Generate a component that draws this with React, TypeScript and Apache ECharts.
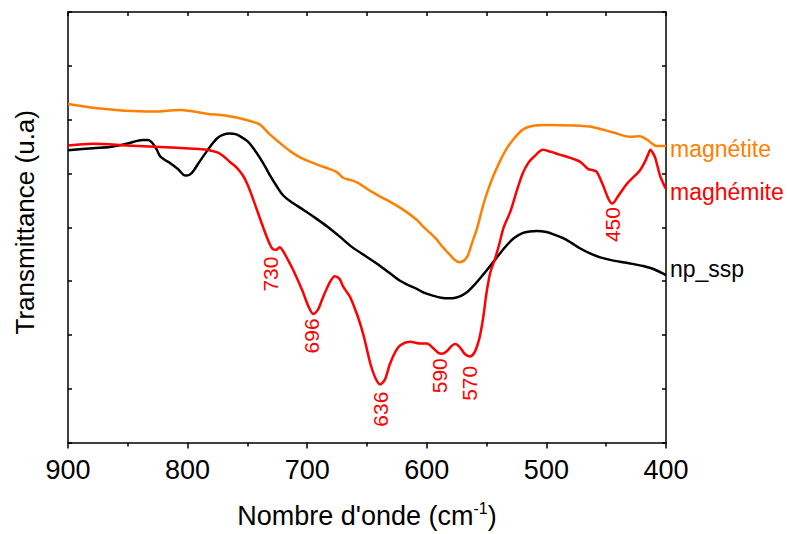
import React, { useEffect, useRef } from "react";
import * as echarts from "echarts";

const FONT = "'Liberation Sans', Arial, Helvetica, sans-serif";

const xMin = 400;
const xMax = 900;
const xStep = 100;

const seriesNames = ["magnétite", "maghémite", "np_ssp"];
const seriesColors = ["#FF8000", "#FF0000", "#000000"];

const magnetite: [number, number][] = [
  [900, 6.29], [879, 6.22], [860, 6.18], [846, 6.16], [826, 6.15], [815, 6.17], [806, 6.18],
  [795, 6.15], [784, 6.11], [767, 6.07], [750, 5.99], [744, 5.95], [739, 5.9], [731, 5.72],
  [722, 5.55], [714, 5.41], [706, 5.3], [698, 5.22], [690, 5.15], [681, 5.08], [675, 5.02],
  [670, 4.92], [664, 4.88], [658, 4.83], [653, 4.76], [647, 4.67], [638, 4.56], [628, 4.44],
  [618, 4.3], [608, 4.13], [603, 4.01], [597, 3.89], [592, 3.78], [587, 3.64], [582, 3.52],
  [577, 3.4], [573, 3.35], [569, 3.38], [566, 3.46], [562, 3.72], [558, 3.98], [553, 4.4],
  [549, 4.68], [545, 4.92], [539, 5.22], [533, 5.47], [527, 5.65], [520, 5.81], [512, 5.88],
  [500, 5.9], [478, 5.89], [461, 5.86], [444, 5.76], [430, 5.68], [422, 5.69], [416, 5.63],
  [412, 5.56], [408, 5.51], [400, 5.51],
];

const maghemite: [number, number][] = [
  [900, 5.52], [879, 5.55], [851, 5.52], [823, 5.49], [795, 5.46], [784, 5.44], [775, 5.39],
  [770, 5.32], [765, 5.22], [759, 5.11], [754, 4.97], [750, 4.8], [746, 4.57], [742, 4.32],
  [737, 4.01], [732, 3.72], [729, 3.6], [726, 3.58], [723, 3.63], [720, 3.55], [716, 3.39],
  [712, 3.22], [704, 2.82], [699, 2.53], [695, 2.39], [691, 2.47], [688, 2.63], [685, 2.79],
  [681, 2.98], [677, 3.09], [673, 3.04], [670, 2.9], [667, 2.8], [664, 2.7], [658, 2.36],
  [653, 2.0], [647, 1.45], [643, 1.2], [639, 1.08], [635, 1.17], [631, 1.45], [626, 1.7],
  [622, 1.81], [614, 1.87], [605, 1.84], [600, 1.84], [594, 1.74], [590, 1.66], [587, 1.65],
  [583, 1.7], [579, 1.8], [576, 1.83], [572, 1.76], [568, 1.64], [564, 1.6], [560, 1.68],
  [556, 1.94], [553, 2.3], [550, 2.79], [547, 3.15], [543, 3.41], [539, 3.72], [536, 3.98],
  [530, 4.3], [525, 4.66], [520, 4.99], [515, 5.2], [510, 5.32], [503, 5.44], [496, 5.4],
  [489, 5.35], [480, 5.29], [472, 5.22], [465, 5.08], [461, 5.06], [458, 5.03], [453, 4.8],
  [448, 4.52], [445, 4.44], [440, 4.58], [433, 4.8], [426, 4.96], [422, 5.05], [418, 5.2],
  [415, 5.35], [413, 5.44], [411, 5.38], [409, 5.29], [405, 4.96], [402, 4.8], [400, 4.71],
];

const npSsp: [number, number][] = [
  [900, 5.43], [879, 5.47], [865, 5.49], [851, 5.55], [843, 5.6], [837, 5.62], [833, 5.62],
  [830, 5.58], [826, 5.45], [823, 5.32], [819, 5.25], [815, 5.2], [808, 5.08], [802, 4.96],
  [798, 4.98], [795, 5.05], [790, 5.22], [784, 5.41], [779, 5.56], [775, 5.66], [770, 5.72],
  [765, 5.74], [760, 5.73], [756, 5.69], [750, 5.6], [745, 5.47], [739, 5.27], [735, 5.12],
  [731, 4.96], [726, 4.78], [720, 4.59], [712, 4.45], [703, 4.32], [693, 4.17], [683, 4.01],
  [673, 3.83], [663, 3.64], [651, 3.46], [639, 3.28], [630, 3.13], [622, 3.0], [615, 2.92],
  [608, 2.85], [602, 2.78], [595, 2.73], [588, 2.69], [581, 2.68], [576, 2.69], [571, 2.73],
  [566, 2.8], [561, 2.91], [554, 3.09], [547, 3.28], [540, 3.48], [533, 3.67], [527, 3.8],
  [520, 3.89], [514, 3.92], [508, 3.93], [500, 3.91], [493, 3.86], [486, 3.8], [479, 3.71],
  [472, 3.61], [464, 3.52], [455, 3.44], [444, 3.38], [433, 3.34], [426, 3.31], [419, 3.28],
  [410, 3.22], [400, 3.11],
];

const peakLabels = ["730", "696", "636", "590", "570", "450"];
const peakLabelWavenumbers = [731, 696, 639, 589, 564, 445];
const peakLabelLevels = [3.13, 1.98, 0.62, 1.24, 1.1, 4.05];

const endLabelOffsets: [number, number][] = [[0, 3], [0, 3], [0, -6]];

export default function App() {
  const ref = useRef<HTMLDivElement>(null);

  useEffect(() => {
    if (!ref.current) return;
    const chart = echarts.init(ref.current, undefined, { renderer: "svg" });
    const allData = [magnetite, maghemite, npSsp];

    const axisLineStyle = { color: "#000", width: 1.5 };

    const series: any[] = allData.map((data, i) => {
      const last = data[data.length - 1];
      const markData: any[] = [
        {
          coord: [last[0], last[1]],
          label: {
            show: true,
            position: "right",
            distance: 4,
            offset: endLabelOffsets[i],
            formatter: seriesNames[i],
            color: seriesColors[i],
            fontSize: 23,
            fontFamily: FONT,
          },
        },
      ];
      if (i === 1) {
        peakLabels.forEach((txt, k) => {
          markData.push({
            coord: [peakLabelWavenumbers[k], peakLabelLevels[k]],
            label: {
              show: true,
              position: "inside",
              rotate: 90,
              formatter: txt,
              color: seriesColors[1],
              fontSize: 21,
              fontFamily: FONT,
            },
          });
        });
      }
      return {
        name: seriesNames[i],
        type: "line",
        data,
        showSymbol: false,
        symbol: "none",
        smooth: 0.3,
        lineStyle: { color: seriesColors[i], width: 2.5 },
        itemStyle: { color: seriesColors[i] },
        z: 3 - i,
        markPoint: {
          symbol: "circle",
          symbolSize: 0,
          silent: true,
          itemStyle: { color: "transparent" },
          data: markData,
        },
      };
    });

    chart.setOption({
      animation: false,
      backgroundColor: "#ffffff",
      grid: { left: 68, right: 124, top: 12, bottom: 85, containLabel: false },
      xAxis: [
        {
          type: "value",
          min: xMin,
          max: xMax,
          interval: xStep,
          inverse: true,
          position: "bottom",
          name: "{a|Nombre d'onde (cm}{s|-1}{a|)}",
          nameLocation: "middle",
          nameGap: 58,
          nameTextStyle: {
            rich: {
              a: { fontSize: 27, fontFamily: FONT, color: "#000", lineHeight: 30 },
              s: { fontSize: 16, fontFamily: FONT, color: "#000", verticalAlign: "top", lineHeight: 15 },
            },
          },
          axisLine: { show: true, onZero: false, lineStyle: axisLineStyle },
          axisTick: { show: true, inside: false, length: 6, lineStyle: axisLineStyle },
          minorTick: { show: true, splitNumber: 2, length: 4, lineStyle: axisLineStyle },
          axisLabel: { fontSize: 27, color: "#000", fontFamily: FONT, margin: 14 },
          splitLine: { show: false },
          minorSplitLine: { show: false },
        },
        {
          type: "value",
          min: xMin,
          max: xMax,
          interval: xStep,
          inverse: true,
          position: "top",
          axisLine: { show: true, onZero: false, lineStyle: axisLineStyle },
          axisTick: { show: true, inside: true, length: 4, lineStyle: axisLineStyle },
          minorTick: { show: true, splitNumber: 2, length: 4, lineStyle: axisLineStyle },
          axisLabel: { show: false },
          splitLine: { show: false },
        },
      ],
      yAxis: [
        {
          type: "value",
          min: 0,
          max: 8,
          interval: 1,
          position: "left",
          name: "Transmittance (u.a)",
          nameLocation: "middle",
          nameGap: 30,
          nameRotate: 90,
          nameTextStyle: { fontSize: 26, fontFamily: FONT, color: "#000", padding: [0, 0, 0, 10] },
          axisLine: { show: true, onZero: false, lineStyle: axisLineStyle },
          axisTick: { show: true, inside: true, length: 4, lineStyle: axisLineStyle },
          axisLabel: { show: false },
          splitLine: { show: false },
        },
        {
          type: "value",
          min: 0,
          max: 8,
          interval: 1,
          position: "right",
          axisLine: { show: true, onZero: false, lineStyle: axisLineStyle },
          axisTick: { show: true, inside: true, length: 4, lineStyle: axisLineStyle },
          axisLabel: { show: false },
          splitLine: { show: false },
        },
      ],
      series,
    });

    return () => chart.dispose();
  }, []);

  return (
    <div
      ref={ref}
      style={{ position: "fixed", left: 0, top: 0, width: 790, height: 534, background: "#fff" }}
    />
  );
}
